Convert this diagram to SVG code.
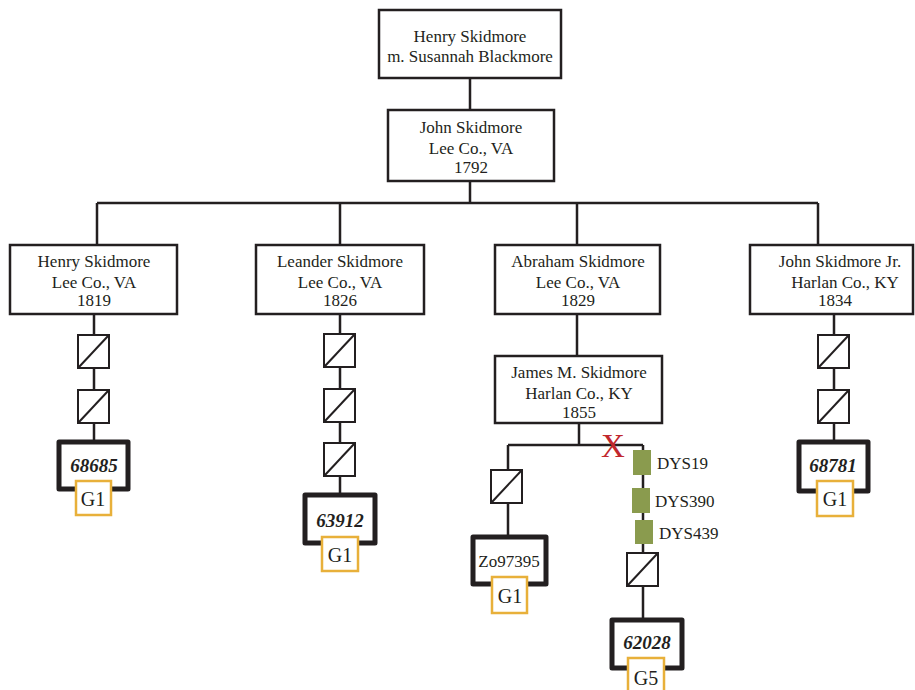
<svg xmlns="http://www.w3.org/2000/svg" width="915" height="690" viewBox="0 0 915 690">
<defs>
<style>
.box{fill:#fff;stroke:#231f20;stroke-width:2.5}
.thick{fill:#fff;stroke:#231f20;stroke-width:5;stroke-linejoin:round}
.gold{fill:#fff;stroke:#e8b03a;stroke-width:2.5}
.sq{fill:#fff;stroke:#231f20;stroke-width:2}
.ln{fill:none;stroke:#231f20;stroke-width:2.5}
.grn{fill:#8a9b4e}
text{font-family:"Liberation Serif","DejaVu Serif",serif;font-size:17px;fill:#231f20;text-anchor:middle}
.num{font-weight:bold;font-style:italic;font-size:19px}
.g{font-size:20px}
.lbl{text-anchor:start}
.x{fill:#c1272d;font-size:33px}
</style>
<g id="slash">
<rect class="sq" x="0" y="0" width="31" height="33"/>
<line x1="1" y1="32" x2="30" y2="1" stroke="#231f20" stroke-width="2"/>
</g>
</defs>
<g id="connectors">
<path class="ln" d="M470 78V110M470 181V203M97 203H818M97 203V245M340 203V245M577 203V245M818 203V245"/>
<path class="ln" d="M94 314V442M340 314V495M577 314V356M579 423V445M508 445H643M508 445V537M643 445V620M834 314V442"/>
</g>
<g id="n-henry-susannah">
<rect class="box" x="379" y="10" width="182" height="68"/>
<text x="470" y="42">Henry Skidmore</text>
<text x="470" y="62">m. Susannah Blackmore</text>
</g>
<g id="n-john">
<rect class="box" x="388" y="110" width="166" height="71"/>
<text x="471" y="133">John Skidmore</text>
<text x="471" y="154">Lee Co., VA</text>
<text x="471" y="173">1792</text>
</g>
<g id="n-henry">
<rect class="box" x="10" y="245" width="167" height="69"/>
<text x="94" y="267">Henry Skidmore</text>
<text x="94" y="288">Lee Co., VA</text>
<text x="94" y="306">1819</text>
</g>
<g id="n-leander">
<rect class="box" x="256" y="245" width="168" height="69"/>
<text x="340" y="267">Leander Skidmore</text>
<text x="340" y="288">Lee Co., VA</text>
<text x="340" y="306">1826</text>
</g>
<g id="n-abraham">
<rect class="box" x="495" y="245" width="165" height="69"/>
<text x="578" y="267">Abraham Skidmore</text>
<text x="578" y="288">Lee Co., VA</text>
<text x="578" y="306">1829</text>
</g>
<g id="n-johnjr">
<rect class="box" x="750" y="245" width="163" height="69"/>
<text x="840" y="267">John Skidmore Jr.</text>
<text x="845" y="288">Harlan Co., KY</text>
<text x="835" y="306">1834</text>
</g>
<g id="n-james">
<rect class="box" x="495" y="356" width="167" height="67"/>
<text x="579" y="378">James M. Skidmore</text>
<text x="579" y="399">Harlan Co., KY</text>
<text x="579" y="418">1855</text>
</g>
<g id="gen-henry">
<use href="#slash" x="78" y="335"/>
<use href="#slash" x="78" y="390"/>
</g>
<g id="gen-leander">
<use href="#slash" x="324" y="334"/>
<use href="#slash" x="324" y="389"/>
<use href="#slash" x="324" y="443"/>
</g>
<g id="gen-johnjr">
<use href="#slash" x="818" y="335"/>
<use href="#slash" x="818" y="390"/>
</g>
<g id="gen-james">
<use href="#slash" x="491" y="470"/>
<use href="#slash" x="627" y="553"/>
</g>
<g id="k-68685">
<rect class="thick" x="59" y="442" width="69" height="47"/>
<text class="num" x="94" y="472">68685</text>
<rect class="gold" x="76" y="481" width="35" height="34"/>
<text class="g" x="93" y="506">G1</text>
</g>
<g id="k-63912">
<rect class="thick" x="305" y="495" width="70" height="48"/>
<text class="num" x="340" y="527">63912</text>
<rect class="gold" x="322" y="537" width="36" height="34"/>
<text class="g" x="340" y="562">G1</text>
</g>
<g id="k-z097395">
<rect class="thick" x="473" y="537" width="73" height="47"/>
<text x="509" y="567">Zo97395</text>
<rect class="gold" x="492" y="577" width="35" height="36"/>
<text class="g" x="510" y="603">G1</text>
</g>
<g id="k-62028">
<rect class="thick" x="612" y="620" width="70" height="48"/>
<text class="num" x="647" y="649">62028</text>
<rect class="gold" x="628" y="658" width="36" height="40"/>
<text class="g" x="646" y="685">G5</text>
</g>
<g id="k-68781">
<rect class="thick" x="799" y="442" width="69" height="49"/>
<text class="num" x="833" y="472">68781</text>
<rect class="gold" x="817" y="481" width="36" height="35"/>
<text class="g" x="835" y="506">G1</text>
</g>
<g id="mutations">
<text class="x" x="613" y="457">X</text>
<rect class="grn" x="633" y="450" width="18" height="25"/>
<text class="lbl" x="657" y="469">DYS19</text>
<rect class="grn" x="632" y="488" width="18" height="25"/>
<text class="lbl" x="655" y="507">DYS390</text>
<rect class="grn" x="635" y="520" width="18" height="24"/>
<text class="lbl" x="659" y="539">DYS439</text>
</g>
</svg>
